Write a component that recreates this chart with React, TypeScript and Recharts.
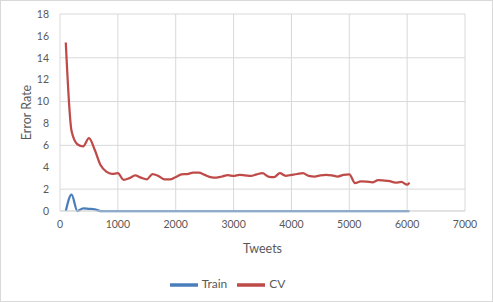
import React from 'react';
import { LineChart, Line, XAxis, YAxis, CartesianGrid, Legend } from 'recharts';

// tweets used for training (x values)
const tweets = [
  100, 200, 300, 400, 500, 600, 700, 800, 900, 1000,
  1100, 1200, 1300, 1400, 1500, 1600, 1700, 1800, 1900, 2000,
  2100, 2200, 2300, 2400, 2500, 2600, 2700, 2800, 2900, 3000,
  3100, 3200, 3300, 3400, 3500, 3600, 3700, 3800, 3900, 4000,
  4100, 4200, 4300, 4400, 4500, 4600, 4700, 4800, 4900, 5000,
  5100, 5200, 5300, 5400, 5500, 5600, 5700, 5800, 5900, 6000, 6040,
];

const trainError = [
  0, 1.5, 0, 0.25, 0.2, 0.15, 0, 0, 0, 0,
  0, 0, 0, 0, 0, 0, 0, 0, 0, 0,
  0, 0, 0, 0, 0, 0, 0, 0, 0, 0,
  0, 0, 0, 0, 0, 0, 0, 0, 0, 0,
  0, 0, 0, 0, 0, 0, 0, 0, 0, 0,
  0, 0, 0, 0, 0, 0, 0, 0, 0, 0, 0,
];

const cvError = [
  15.4, 7.3, 6.1, 5.9, 6.65, 5.6, 4.2, 3.6, 3.4, 3.45,
  2.85, 3.0, 3.25, 3.05, 2.9, 3.38, 3.2, 2.9, 2.88, 3.1,
  3.35, 3.38, 3.5, 3.5, 3.3, 3.1, 3.05, 3.15, 3.28, 3.2,
  3.3, 3.25, 3.2, 3.35, 3.45, 3.15, 3.1, 3.45, 3.22, 3.3,
  3.38, 3.45, 3.2, 3.15, 3.25, 3.3, 3.25, 3.15, 3.3, 3.35,
  2.55, 2.7, 2.68, 2.62, 2.82, 2.78, 2.72, 2.6, 2.65, 2.4, 2.6,
];

const seriesOrder = ['Train', 'CV'];
const xTicks = [0, 1000, 2000, 3000, 4000, 5000, 6000, 7000];
const yTicks = [0, 2, 4, 6, 8, 10, 12, 14, 16, 18];

const data = tweets.map((t, i) => ({ tweets: t, train: trainError[i], cv: cvError[i] }));

const font = 'Lato, "Liberation Sans", sans-serif';
const textColor = '#595959';

export default function App() {
  return (
    <div style={{ position: 'fixed', left: 0, top: 0, width: 493, height: 302, background: '#fff', fontFamily: font }}>
      <LineChart width={493} height={302} data={data} margin={{ top: 14, right: 28, left: 0, bottom: 11 }}>
        <CartesianGrid stroke="#d9d9d9" strokeWidth={1} />
        <XAxis
          dataKey="tweets"
          type="number"
          domain={[0, 7000]}
          ticks={xTicks}
          height={60}
          axisLine={{ stroke: '#d9d9d9' }}
          tickLine={false}
          tickSize={0}
          tickMargin={10}
          tick={{ fill: textColor, fontSize: 10.5, fontFamily: font }}
          label={{ value: 'Tweets', position: 'insideBottom', offset: 18, fill: textColor, fontSize: 12.5, fontFamily: font }}
        />
        <YAxis
          type="number"
          domain={[0, 18]}
          ticks={yTicks}
          width={60}
          axisLine={false}
          tickLine={false}
          tickSize={0}
          tickMargin={11}
          tick={{ fill: textColor, fontSize: 10.5, fontFamily: font }}
          label={{ value: 'Error Rate', angle: -90, position: 'insideLeft', offset: 27, fill: textColor, fontSize: 12.5, fontFamily: font, style: { textAnchor: 'middle' } }}
        />
        <Legend
          verticalAlign="bottom"
          height={20}
          iconType="plainline"
          iconSize={28}
          itemSorter={(item: any) => seriesOrder.indexOf(item.value)}
          wrapperStyle={{ fontSize: 12, color: textColor, fontFamily: font }}
          formatter={(value) => <span style={{ color: textColor }}>{value}</span>}
        />
        <Line type="monotone" dataKey="train" name="Train" stroke="#4a7ebb" strokeWidth={2.25} dot={false} isAnimationActive={false} />
        <Line type="monotone" dataKey="cv" name="CV" stroke="#be4b48" strokeWidth={2.25} dot={false} isAnimationActive={false} />
      </LineChart>
      <div style={{ position: 'absolute', left: 0, top: 0, width: 493, height: 302, boxSizing: 'border-box', border: '1px solid #d9d9d9', pointerEvents: 'none' }} />
    </div>
  );
}
